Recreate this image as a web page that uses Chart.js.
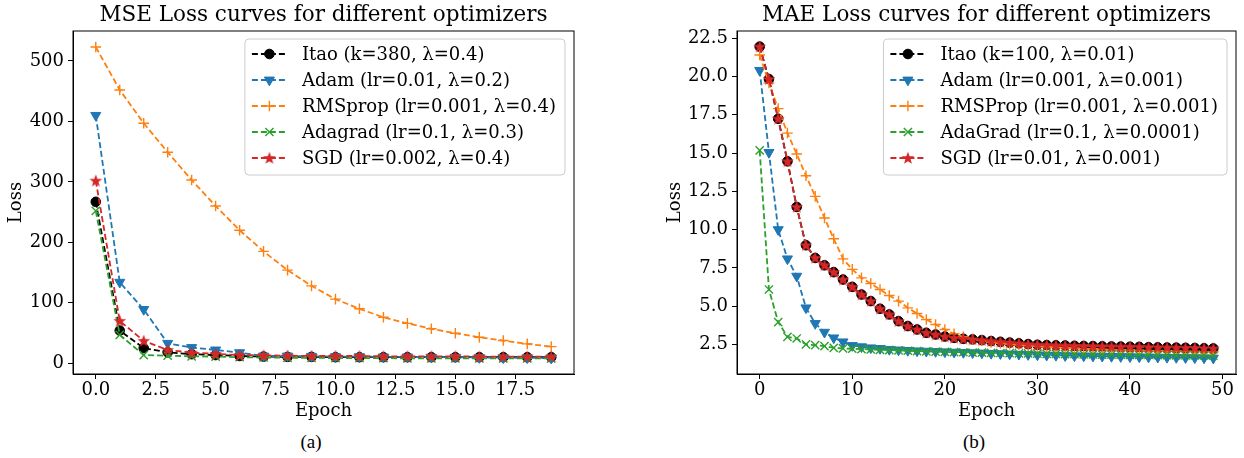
<!DOCTYPE html>
<html>
<head>
<meta charset="utf-8">
<script src="https://cdn.jsdelivr.net/npm/chart.js@4.4.0/dist/chart.umd.min.js"></script>
<style>
  body { margin: 0; background: #fff; width: 1244px; height: 458px; overflow: hidden; position: relative; }
  .box { position: absolute; top: 0; height: 430px; }
  #boxA { left: 0; width: 620px; }
  #boxB { left: 620px; width: 624px; }
  .cap { position: absolute; top: 431px; width: 60px; text-align: center; font-family: 'Liberation Serif', serif; font-size: 19px; color: #000; }
</style>
</head>
<body>
<div class="box" id="boxA"><canvas id="mse"></canvas></div>
<div class="box" id="boxB"><canvas id="mae"></canvas></div>
<div class="cap" style="left:281px">(a)</div>
<div class="cap" style="left:944px">(b)</div>
<script>
// (a) MSE loss, 20 epochs
const epochsA = [0, 1, 2, 3, 4, 5, 6, 7, 8, 9, 10, 11, 12, 13, 14, 15, 16, 17, 18, 19];
const itaoA = [267, 54, 25, 18, 15, 13.5, 12, 11, 10.5, 10.5, 10, 10, 10, 10, 10, 10, 10, 10, 10, 10];
const adamA = [410, 134, 89, 33, 26, 22, 17.5, 12, 12, 11.5, 11, 11, 10.5, 10.5, 10, 10, 9.5, 9, 9, 8.5];
const rmspropA = [523, 452, 397, 349, 303, 260, 220, 185, 154, 128, 106, 90, 76, 66, 57, 49.5, 43, 37.5, 32, 27.5];
const adagradA = [252, 47, 13.5, 12.5, 11.5, 11, 10, 9.5, 9, 9, 8.5, 8.5, 8.5, 8, 8, 8, 8, 8, 8, 8];
const sgdA = [302, 70, 37, 22, 17.5, 15.5, 13.5, 13, 12.5, 12, 12, 12, 11.5, 11.5, 11.5, 11.5, 11, 11, 11, 11];
const namesA = ['Itao (k=380, λ=0.4)', 'Adam (lr=0.01, λ=0.2)', 'RMSprop (lr=0.001, λ=0.4)', 'Adagrad (lr=0.1, λ=0.3)', 'SGD (lr=0.002, λ=0.4)'];

// (b) MAE loss, 50 epochs
const epochsB = [0, 1, 2, 3, 4, 5, 6, 7, 8, 9, 10, 11, 12, 13, 14, 15, 16, 17, 18, 19, 20, 21, 22, 23, 24,
  25, 26, 27, 28, 29, 30, 31, 32, 33, 34, 35, 36, 37, 38, 39, 40, 41, 42, 43, 44, 45, 46, 47, 48, 49];
const itaoB = [21.95, 19.83, 17.24, 14.46, 11.48, 8.98, 8.15, 7.67, 7.22, 6.74, 6.26, 5.76, 5.33, 4.83, 4.46, 4.02, 3.70, 3.48, 3.26, 3.15,
  3.02, 2.93, 2.87, 2.83, 2.78, 2.72, 2.67, 2.62, 2.57, 2.52, 2.48, 2.46, 2.44, 2.43, 2.41, 2.40, 2.39, 2.38, 2.37, 2.36,
  2.35, 2.34, 2.32, 2.31, 2.30, 2.29, 2.28, 2.27, 2.25, 2.24];
const adamB = [20.4, 15.04, 10.0, 8.09, 6.96, 4.89, 3.87, 3.3, 2.93, 2.67, 2.43, 2.35, 2.28, 2.24, 2.18, 2.14, 2.11, 2.08, 2.06, 2.04,
  2.02, 2.0, 1.98, 1.96, 1.94, 1.92, 1.90, 1.88, 1.86, 1.84, 1.82, 1.80, 1.79, 1.77, 1.76, 1.75, 1.74, 1.73, 1.72, 1.71,
  1.70, 1.69, 1.68, 1.67, 1.66, 1.65, 1.64, 1.63, 1.62, 1.61];
const rmspropB = [21.4, 19.57, 17.9, 16.3, 14.94, 13.52, 12.17, 10.76, 9.4, 8.09, 7.4, 6.85, 6.48, 6.09, 5.7, 5.33, 4.89, 4.52, 4.13, 3.8,
  3.48, 3.2, 3.0, 2.85, 2.75, 2.65, 2.58, 2.52, 2.47, 2.42, 2.38, 2.34, 2.31, 2.28, 2.25, 2.22, 2.20, 2.18, 2.16, 2.14,
  2.12, 2.11, 2.09, 2.08, 2.07, 2.06, 2.05, 2.04, 2.03, 2.02];
const adagradB = [15.17, 6.09, 3.96, 3.0, 2.89, 2.5, 2.46, 2.39, 2.28, 2.24, 2.22, 2.2, 2.17, 2.15, 2.13, 2.11, 2.09, 2.07, 2.05, 2.03,
  2.01, 2.0, 1.99, 1.97, 1.96, 1.95, 1.94, 1.93, 1.92, 1.91, 1.9, 1.89, 1.88, 1.87, 1.86, 1.85, 1.85, 1.84, 1.83, 1.83,
  1.82, 1.81, 1.81, 1.8, 1.8, 1.79, 1.79, 1.78, 1.78, 1.77];
const sgdB = [21.95, 19.83, 17.24, 14.46, 11.48, 8.98, 8.15, 7.67, 7.22, 6.74, 6.26, 5.76, 5.33, 4.83, 4.46, 4.02, 3.70, 3.48, 3.26, 3.15,
  3.02, 2.93, 2.87, 2.83, 2.78, 2.72, 2.67, 2.62, 2.57, 2.52, 2.48, 2.46, 2.44, 2.43, 2.41, 2.40, 2.39, 2.38, 2.37, 2.36,
  2.35, 2.34, 2.32, 2.31, 2.30, 2.29, 2.28, 2.27, 2.25, 2.24];
const namesB = ['Itao (k=100, λ=0.01)', 'Adam (lr=0.001, λ=0.001)', 'RMSProp (lr=0.001, λ=0.001)', 'AdaGrad (lr=0.1, λ=0.0001)', 'SGD (lr=0.01, λ=0.001)'];

const FONT = 'DejaVu Serif';
const TXT = 18;

// matplotlib '*' marker
const star = document.createElement('canvas');
star.width = 14; star.height = 14;
(() => {
  const c = star.getContext('2d');
  c.beginPath();
  for (let i = 0; i < 10; i++) {
    const r = i % 2 ? 2.8 : 6.6;
    const a = -Math.PI / 2 + i * Math.PI / 5;
    c.lineTo(7 + r * Math.cos(a), 7.4 + r * Math.sin(a));
  }
  c.closePath();
  c.fillStyle = '#d62728';
  c.fill();
})();

const looks = [
  { color: '#000000', pointStyle: 'circle', radius: 4.8, rotation: 0, bw: 1 },
  { color: '#1f77b4', pointStyle: 'triangle', radius: 5.8, rotation: 180, bw: 1 },
  { color: '#ff7f0e', pointStyle: 'cross', radius: 5.3, rotation: 0, bw: 1.4 },
  { color: '#2ca02c', pointStyle: 'crossRot', radius: 5.8, rotation: 0, bw: 1.4 },
  { color: '#d62728', pointStyle: star, radius: 6, rotation: 0, bw: 1 },
];

// frame round the plot + legend box inside it (upper right)
const frameLegend = {
  id: 'frameLegend',
  afterDraw(chart) {
    const { ctx, chartArea: a } = chart;
    ctx.save();
    ctx.strokeStyle = '#000';
    ctx.lineWidth = 1;
    ctx.strokeRect(a.left, a.top, a.right - a.left, a.bottom - a.top);

    const sets = chart.data.datasets;
    ctx.font = TXT + 'px "' + FONT + '"';
    const textW = Math.max(...sets.map(d => ctx.measureText(d.label).width));
    const w = 57 + textW + 9, h = sets.length * 26 + 6;
    const x0 = a.right - 9 - w, y0 = a.top + 8;
    ctx.beginPath();
    ctx.roundRect(x0, y0, w, h, 4);
    ctx.fillStyle = 'rgba(255,255,255,0.8)';
    ctx.fill();
    ctx.strokeStyle = '#cccccc';
    ctx.stroke();

    sets.forEach((d, i) => {
      const lk = looks[i];
      const cy = y0 + 15 + i * 26;
      ctx.save();
      ctx.setLineDash([6, 3]);
      ctx.strokeStyle = lk.color;
      ctx.lineWidth = 1.8;
      ctx.beginPath();
      ctx.moveTo(x0 + 7, cy);
      ctx.lineTo(x0 + 42, cy);
      ctx.stroke();
      ctx.restore();
      ctx.fillStyle = lk.color;
      ctx.strokeStyle = lk.color;
      ctx.lineWidth = lk.bw;
      Chart.helpers.drawPoint(ctx, { pointStyle: lk.pointStyle, radius: lk.radius, rotation: lk.rotation, borderWidth: lk.bw }, x0 + 24.5, cy);
      ctx.fillStyle = '#000';
      ctx.textBaseline = 'middle';
      ctx.textAlign = 'left';
      ctx.fillText(d.label, x0 + 57, cy + 1);
    });
    ctx.restore();
  },
};

const makeChart = (id, o) => {
  const datasets = o.series.map((vals, i) => ({
    label: o.names[i],
    data: vals.map((v, k) => ({ x: o.epochs[k], y: v })),
    borderColor: looks[i].color,
    backgroundColor: looks[i].color,
    borderWidth: 1.8,
    borderDash: [6, 3],
    pointStyle: looks[i].pointStyle,
    pointRadius: looks[i].radius,
    pointRotation: looks[i].rotation,
    pointBorderWidth: looks[i].bw,
    pointBackgroundColor: looks[i].color,
    pointBorderColor: looks[i].color,
    tension: 0,
    order: 4 - i,
  }));
  const tickFont = { family: FONT, size: TXT };
  return new Chart(document.getElementById(id), {
    type: 'line',
    data: { datasets },
    plugins: [frameLegend],
    options: {
      responsive: true,
      maintainAspectRatio: false,
      animation: false,
      layout: { padding: o.pad },
      plugins: {
        legend: { display: false },
        tooltip: { enabled: false },
        title: {
          display: true, text: o.title, color: '#000', fullSize: false,
          font: { family: FONT, size: 21.5, weight: 'normal', lineHeight: 1 },
          padding: { top: 5, bottom: 4.5 },
        },
      },
      scales: {
        x: {
          type: 'linear', min: o.xMin, max: o.xMax,
          afterFit: s => { s.height = 56; },
          ticks: { stepSize: o.xStep, includeBounds: false, color: '#000', font: tickFont, padding: 1, maxRotation: 0, autoSkip: false, callback: o.xFmt },
          grid: { drawOnChartArea: false, drawTicks: true, tickLength: 5, color: '#000' },
          border: { color: '#000', width: 1 },
          title: { display: true, text: 'Epoch', color: '#000', font: tickFont, padding: { top: 0, bottom: 8 } },
        },
        y: {
          type: 'linear', min: o.yMin, max: o.yMax,
          afterFit: s => { s.width = o.yWidth; },
          ticks: { stepSize: o.yStep, includeBounds: false, color: '#000', font: tickFont, padding: 4, autoSkip: false, callback: o.yFmt },
          grid: { drawOnChartArea: false, drawTicks: true, tickLength: 5, color: '#000' },
          border: { color: '#000', width: 1 },
          title: { display: true, text: 'Loss', color: '#000', font: tickFont, padding: { top: o.yTitlePad, bottom: 0 } },
        },
      },
    },
  });
};

makeChart('mse', {
  title: 'MSE Loss curves for different optimizers',
  names: namesA,
  epochs: epochsA,
  series: [itaoA, adamA, rmspropA, adagradA, sgdA],
  xMin: -0.95, xMax: 19.95, xStep: 2.5, xFmt: v => v.toFixed(1),
  yMin: -17.8, yMax: 549.5, yStep: 100, yFmt: v => String(v),
  yWidth: 73, yTitlePad: 6,
  pad: { left: 0, right: 46, top: 0, bottom: 0 },
});

makeChart('mae', {
  title: 'MAE Loss curves for different optimizers',
  names: namesB,
  epochs: epochsB,
  series: [itaoB, adamB, rmspropB, adagradB, sgdB],
  xMin: -2.45, xMax: 51.45, xStep: 10, xFmt: v => String(v),
  yMin: 0.57, yMax: 22.97, yStep: 2.5, yFmt: v => v.toFixed(1),
  yWidth: 72, yTitlePad: 0,
  pad: { left: 45, right: 8, top: 0, bottom: 0 },
});
</script>
</body>
</html>
